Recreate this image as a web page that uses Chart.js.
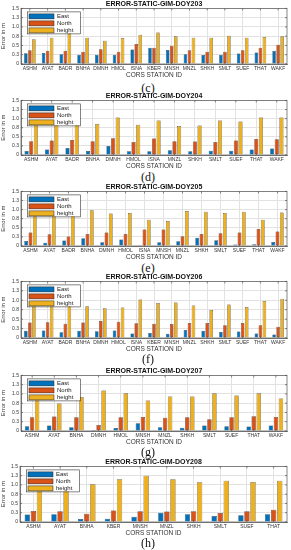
<!DOCTYPE html>
<html>
<head>
<meta charset="utf-8">
<script src="https://cdn.jsdelivr.net/npm/chart.js@4"></script>
<style>
  body { margin:0; background:#fff; width:291px; height:550px; position:relative; overflow:hidden; }
  canvas { position:absolute; left:0; }
  .cap { position:absolute; left:0; width:296px; text-align:center; font:12px 'Liberation Serif', 'Times New Roman', serif; color:#111; line-height:12px; }
</style>
</head>
<body>
<script>
// ── Data ──────────────────────────────────────────────────────────────────────
const stations203 = ['ASHM','AYAT','BADR','BNHA','DMNH','HMOL','ISNA','KBER','MNSH','MNZL','SHKH','SMLT','SUEF','THAT','WAKF'];
const east203     = [0.29,0.30,0.26,0.25,0.25,0.25,0.39,0.44,0.38,0.26,0.24,0.25,0.28,0.31,0.36];
const north203    = [0.37,0.36,0.36,0.33,0.40,0.33,0.54,0.44,0.49,0.37,0.33,0.33,0.37,0.44,0.52];
const height203   = [0.67,0.71,0.84,0.71,0.63,0.70,0.79,0.85,0.75,0.71,0.71,0.76,0.71,0.73,0.75];

const stations204 = ['ASHM','AYAT','BADR','BNHA','DMNH','HMOL','ISNA','MNZL','SHKH','SMLT','SUEF','THAT','WAKF'];
const east204     = [0.11,0.15,0.19,0.11,0.25,0.10,0.10,0.13,0.10,0.12,0.12,0.15,0.18];
const north204    = [0.38,0.40,0.41,0.38,0.46,0.36,0.45,0.38,0.37,0.36,0.40,0.44,0.43];
const height204   = [0.86,0.86,0.97,0.85,1.03,0.83,0.95,0.80,0.81,0.95,0.92,1.03,1.03];

const stations205 = ['ASHM','AYAT','BADR','BNHA','DMNH','HMOL','ISNA','MNSH','MNZL','SHKH','SMLT','SUEF','THAT','WAKF'];
const east205     = [0.14,0.09,0.15,0.21,0.10,0.18,0.01,0.10,0.13,0.23,0.16,0.04,0.05,0.11];
const north205    = [0.37,0.32,0.26,0.33,0.37,0.33,0.45,0.45,0.27,0.33,0.35,0.37,0.47,0.40];
const height205   = [0.86,0.86,0.98,0.98,0.89,0.91,0.72,0.69,0.96,0.94,0.91,0.94,0.72,0.92];

const stations206 = ['ASHM','AYAT','BADR','BNHA','DMNH','HMOL','ISNA','KBER','MNSH','MNZL','SHKH','SMLT','SUEF','THAT','WAKF'];
const east206     = [0.19,0.20,0.15,0.19,0.18,0.20,0.12,0.13,0.11,0.21,0.19,0.16,0.17,0.12,0.09];
const north206    = [0.41,0.42,0.38,0.41,0.45,0.43,0.39,0.38,0.37,0.40,0.40,0.34,0.40,0.34,0.30];
const height206   = [0.90,0.90,0.88,0.84,0.79,0.81,1.02,0.93,0.94,0.86,0.74,0.89,0.82,0.98,1.04];

const stations207 = ['ASHM','AYAT','BNHA','DMNH','HMOL','MNSH','MNZL','SHKH','SMLT','SUEF','THAT','WAKF'];
const east207     = [0.13,0.15,0.10,0.03,0.08,0.21,0.10,0.09,0.15,0.13,0.12,0.15];
const north207    = [0.37,0.39,0.37,0.16,0.37,0.38,0.36,0.37,0.32,0.37,0.40,0.38];
const height207   = [0.86,0.74,0.92,1.09,1.02,0.82,0.93,0.93,1.02,0.96,1.02,0.88];

const stations208 = ['ASHM','AYAT','BNHA','KBER','MNSH','MNZL','SHKH','SMLT','SUEF','THAT'];
const east208     = [0.20,0.21,0.08,0.09,0.14,0.25,0.21,0.16,0.18,0.21];
const north208    = [0.30,0.29,0.22,0.31,0.29,0.28,0.29,0.24,0.29,0.33];
const height208   = [0.92,0.92,1.02,1.15,1.25,1.15,1.07,1.11,1.08,1.11];

const yTicks = [0, 0.25, 0.5, 0.75, 1, 1.25, 1.5];

// ── Panel layout ──────────────────────────────────────────────────────────────
const panels = [
  { doy:'203', cap:'(c)', labels:stations203, e:east203, n:north203, h:height203, top:0,   bottom:64,  capY:88,  left:21 },
  { doy:'204', cap:'(d)', labels:stations204, e:east204, n:north204, h:height204, top:92,  bottom:155, capY:177, left:21 },
  { doy:'205', cap:'(e)', labels:stations205, e:east205, n:north205, h:height205, top:183, bottom:246, capY:268, left:21 },
  { doy:'206', cap:'(f)', labels:stations206, e:east206, n:north206, h:height206, top:273, bottom:338, capY:359, left:21 },
  { doy:'207', cap:'(g)', labels:stations207, e:east207, n:north207, h:height207, top:367, bottom:431, capY:452, left:21 },
  { doy:'208', cap:'(h)', labels:stations208, e:east208, n:north208, h:height208, top:458, bottom:522, capY:543, left:20 },
];

Chart.defaults.font.family = "'Liberation Sans', Arial, sans-serif";
Chart.defaults.color = '#333';

// box, inward ticks and in-axes legend, MATLAB style
const matlabBox = {
  id: 'matlabBox',
  afterDatasetsDraw(chart) {
    const { ctx, chartArea: a, scales } = chart;
    ctx.save();
    ctx.strokeStyle = '#555';
    ctx.lineWidth = 0.7;
    ctx.strokeRect(a.left, a.top, a.right - a.left, a.bottom - a.top);
    ctx.beginPath();
    scales.y.ticks.forEach(t => {
      const y = scales.y.getPixelForValue(t.value);
      ctx.moveTo(a.left, y);  ctx.lineTo(a.left + 2, y);
      ctx.moveTo(a.right, y); ctx.lineTo(a.right - 2, y);
    });
    scales.x.ticks.forEach((t, i) => {
      const x = scales.x.getPixelForTick(i);
      ctx.moveTo(x, a.bottom); ctx.lineTo(x, a.bottom - 2);
      ctx.moveTo(x, a.top);    ctx.lineTo(x, a.top + 2);
    });
    ctx.stroke();

    // legend
    const lx = a.left + 6, ly = a.top + 3, lw = 53, lh = 22;
    ctx.fillStyle = '#fff';
    ctx.fillRect(lx, ly, lw, lh);
    ctx.strokeStyle = '#333';
    ctx.lineWidth = 0.6;
    ctx.strokeRect(lx + 0.5, ly + 0.5, lw, lh);
    ctx.font = "6px 'Liberation Sans', Arial, sans-serif";
    ctx.textBaseline = 'middle';
    chart.data.datasets.forEach((ds, i) => {
      const ry = ly + 5 + i * 7;
      ctx.fillStyle = ds.backgroundColor;
      ctx.fillRect(lx + 2, ry - 2.5, 25, 5);
      ctx.strokeStyle = '#222';
      ctx.lineWidth = 0.5;
      ctx.strokeRect(lx + 2, ry - 2.5, 25, 5);
      ctx.fillStyle = '#222';
      ctx.fillText(ds.label, lx + 30, ry);
    });
    ctx.restore();
  },
};

panels.forEach(p => {
  const h = p.bottom - p.top + 15;
  const cv = document.createElement('canvas');
  cv.width = 291; cv.height = h;
  cv.style.top = p.top + 'px';
  document.body.appendChild(cv);

  const cap = document.createElement('div');
  cap.className = 'cap';
  cap.style.top = (p.capY - 6) + 'px';
  cap.textContent = p.cap;
  document.body.appendChild(cap);

  const bar = (label, data, color) => ({
    label, data,
    backgroundColor: color,
    borderColor: '#222',
    borderWidth: 0.5,
    categoryPercentage: 0.68,
    barPercentage: 0.88,
  });

  new Chart(cv, {
    type: 'bar',
    data: {
      labels: p.labels,
      datasets: [
        bar('East',   p.e, '#0072BD'),
        bar('North',  p.n, '#D95319'),
        bar('height', p.h, '#EDB120'),
      ],
    },
    options: {
      responsive: false,
      animation: false,
      devicePixelRatio: 1,
      layout: { padding: { left: 0, right: 4, top: 0, bottom: 0 } },
      plugins: {
        legend: { display: false },
        tooltip: { enabled: false },
        title: {
          display: true,
          text: 'ERROR-STATIC-GIM-DOY' + p.doy,
          fullSize: false,
          color: '#111',
          font: { size: 7, weight: 'bold' },
          padding: 0,
        },
      },
      scales: {
        x: {
          grid: { color: '#e2e2e2', offset: false, drawTicks: false },
          border: { color: '#555', width: 0.7 },
          ticks: { color: '#333', font: { size: 5 }, padding: 2, autoSkip: false, maxRotation: 0 },
          title: { display: true, text: 'CORS STATION ID', color: '#333', font: { size: 6.5 }, padding: 0 },
          afterFit: s => { s.height = 15; },
        },
        y: {
          min: 0, max: 1.5,
          afterBuildTicks: s => { s.ticks = yTicks.map(v => ({ value: v })); },
          grid: { color: '#e2e2e2', drawTicks: false },
          border: { color: '#555', width: 0.7 },
          ticks: { color: '#333', font: { size: 5 }, padding: 2, autoSkip: false },
          title: { display: true, text: 'Error in m', color: '#333', font: { size: 6 }, padding: 0 },
          afterFit: s => { s.width = p.left; },
        },
      },
    },
    plugins: [matlabBox],
  });
});
</script>
</body>
</html>
